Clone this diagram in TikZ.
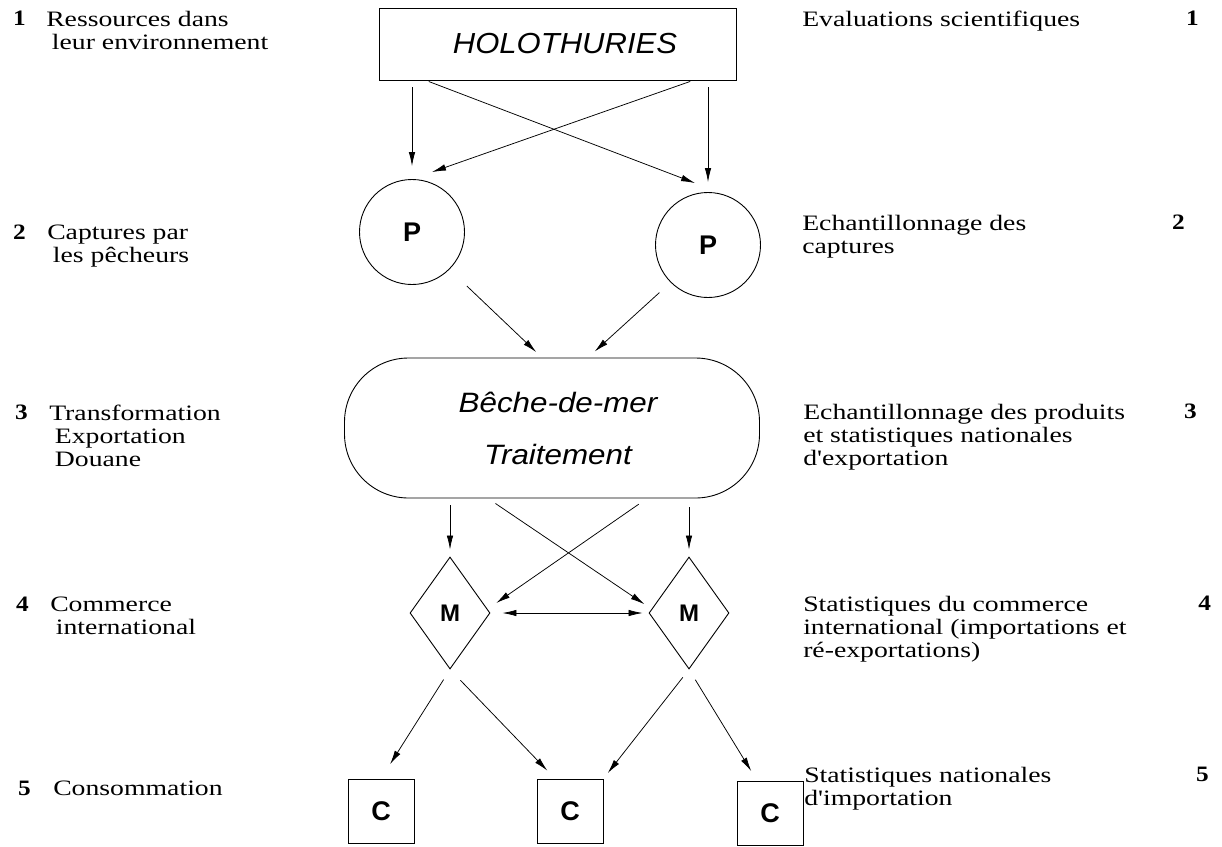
\documentclass[tikz,border=0pt]{standalone}
\usepackage{fontspec}
\setmainfont{Liberation Serif}
\newfontfamily\helv{Liberation Sans}
\usepackage{tikz}
\usetikzlibrary{shapes.geometric, arrows.meta}
\newcommand{\ind}{\hspace*{4.5pt}}

\begin{document}
\begin{tikzpicture}[
    x=1pt, y=-1pt,
    headbox/.style={draw, line width=0.9pt, minimum width=357pt, minimum height=72pt, inner sep=0pt, font=\helv\itshape\fontsize{29}{32}\selectfont},
    fisher/.style={draw, circle, line width=0.9pt, minimum size=105pt, inner sep=0pt, font=\helv\bfseries\fontsize{27}{30}\selectfont},
    proc/.style={draw, line width=0.9pt, rounded corners=64pt, minimum width=415pt, minimum height=140pt, align=center, font=\helv\itshape\fontsize{28}{52}\selectfont},
    market/.style={draw, diamond, aspect=0.714, line width=0.9pt, minimum width=80pt, minimum height=112pt, inner sep=0pt, font=\helv\bfseries\fontsize{24}{26}\selectfont},
    cons/.style={draw, line width=0.9pt, minimum width=66pt, minimum height=64pt, inner sep=0pt, font=\helv\bfseries\fontsize{27}{30}\selectfont},
    lab/.style={anchor=north west, inner sep=0pt, align=left, font=\fontsize{22}{23}\selectfont, xscale=1.26},
    num/.style={anchor=north west, inner sep=0pt, font=\bfseries\fontsize{22}{23}\selectfont, xscale=1.15},
    arrow/.style={-{Latex[length=14pt, width=6.5pt]}, line width=0.75pt},
    twoway/.style={{Latex[length=14pt, width=6.5pt]}-{Latex[length=14pt, width=6.5pt]}, line width=0.75pt}
]
    \useasboundingbox (0,0) rectangle (1222,846);

    % Chain
    \node[headbox] (holo) at (558,44) {\hspace*{14pt}\scalebox{1.07}[1]{HOLOTHURIES}};
    \node[fisher] (pl) at (412,232) {P};
    \node[fisher] (pr) at (708,245) {P};
    \node[proc] (bdm) at (552,428) {\hspace*{12pt}\scalebox{1.12}[1]{B\^eche-de-mer}\\\hspace*{12pt}\scalebox{1.12}[1]{Traitement}};
    \node[market] (ml) at (450,613) {M};
    \node[market] (mr) at (689,613) {M};
    \node[cons] (cl) at (381,811) {C};
    \node[cons] (cm) at (570,811) {C};
    \node[cons] (cr) at (770,813) {C};

    % Resource to fishers
    \draw[arrow, shorten <=7pt, shorten >=13pt] (holo.south -| pl.north) -- (pl.north);
    \draw[arrow, shorten <=7pt, shorten >=10pt] (holo.south -| pr.north) -- (pr.north);
    \draw[arrow, shorten <=3pt] ([xshift=-132pt]holo.south) -- ([xshift=-13pt,yshift=9pt]pr.north);
    \draw[arrow, shorten <=3pt] ([xshift=135pt]holo.south) -- ([xshift=20pt,yshift=7pt]pl.north);

    % Fishers to processing
    \draw[arrow, shorten <=24pt, shorten >=8pt] (pl.-45) -- ([xshift=-10pt]bdm.north);
    \draw[arrow, shorten <=15pt, shorten >=9pt] (pr.-135) -- ([xshift=36pt]bdm.north);

    % Processing to markets
    \draw[arrow, shorten <=7pt, shorten >=7pt] (bdm.south -| ml.north) -- (ml.north);
    \draw[arrow, shorten <=9pt, shorten >=7pt] (bdm.south -| mr.north) -- (mr.north);
    \draw[arrow, shorten <=9pt, shorten >=5pt] ([xshift=-64pt]bdm.south) -- ([yshift=6pt]mr.west);
    \draw[arrow, shorten <=10pt, shorten >=7pt] ([xshift=95pt]bdm.south) -- ([yshift=6pt]ml.east);
    \draw[twoway, shorten <=12pt, shorten >=6pt] (ml.east) -- (mr.west);

    % Markets to consumers
    \draw[arrow, shorten <=12pt, shorten >=17pt] (ml.south) -- (cl.north);
    \draw[arrow, shorten <=15pt, shorten >=11pt] (ml.south) -- ([xshift=-15pt]cm.north);
    \draw[arrow, shorten <=10pt, shorten >=7pt] (mr.south) -- (cm.north east);
    \draw[arrow, shorten <=12pt, shorten >=11pt] (mr.south) -- ([xshift=-13pt]cr.north);

    % Levels
    \node[num] (ln1) at (13,11) {1};
    \node[lab] (lt1) at (46,11) {Ressources dans\\\ind leur environnement};
    \node[num] (ln2) at (13,225) {2};
    \node[lab] (lt2) at (47,225) {Captures par\\\ind les p\^echeurs};
    \node[num] (ln3) at (15,405) {3};
    \node[lab] (lt3) at (49,405) {Transformation\\\ind Exportation\\\ind Douane};
    \node[num] (ln4) at (16,597) {4};
    \node[lab] (lt4) at (50,597) {Commerce\\\ind international};
    \node[num] (ln5) at (18,781) {5};
    \node[lab] (lt5) at (53,781) {Consommation};

    % Data sources
    \node[lab] (rt1) at (802,11) {Evaluations scientifiques};
    \node[num] (rn1) at (1186,11) {1};
    \node[lab] (rt2) at (802,215) {Echantillonnage des\\captures};
    \node[num] (rn2) at (1172,215) {2};
    \node[lab] (rt3) at (803,404) {Echantillonnage des produits\\et statistiques nationales\\d\textquotesingle exportation};
    \node[num] (rn3) at (1184,404) {3};
    \node[lab] (rt4) at (803,596) {Statistiques du commerce\\international (importations et\\r\'e-exportations)};
    \node[num] (rn4) at (1198,596) {4};
    \node[lab] (rt5) at (804,767) {Statistiques nationales\\d\textquotesingle importation};
    \node[num] (rn5) at (1196,767) {5};
\end{tikzpicture}
\end{document}
